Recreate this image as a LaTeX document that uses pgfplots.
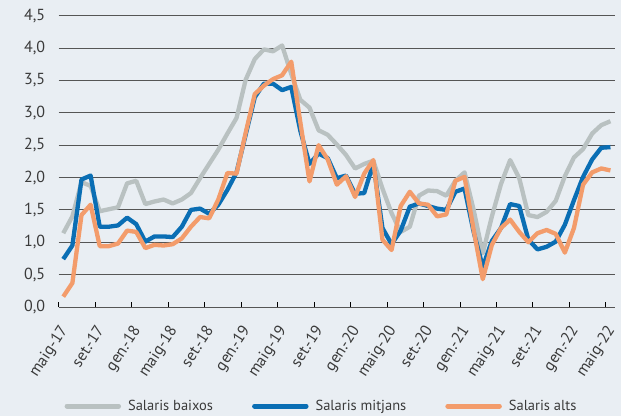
\documentclass[border=0pt]{standalone}
\usepackage{pgfplots}
\pgfplotsset{compat=1.18}
\usepackage{pgfplotstable}
\usepackage{fontspec}
\setmainfont{PT Sans}
\definecolor{bg}{HTML}{E9EEF3}
\definecolor{sgray}{HTML}{B9C1C1}
\definecolor{sblue}{HTML}{0A6EB4}
\definecolor{sorange}{HTML}{F39C6B}
\definecolor{gridc}{HTML}{555555}
\definecolor{txt}{HTML}{3A3A3A}

\pgfplotstableread{
m g b o
0 1.14 0.74 0.16
1 1.40 0.95 0.37
2 1.93 1.97 1.42
3 1.87 2.03 1.58
4 1.48 1.24 0.94
5 1.51 1.24 0.94
6 1.54 1.26 0.98
7 1.91 1.38 1.18
8 1.95 1.28 1.16
9 1.59 1.01 0.91
10 1.63 1.09 0.96
11 1.66 1.09 0.95
12 1.60 1.08 0.97
13 1.66 1.24 1.06
14 1.76 1.50 1.24
15 1.99 1.52 1.39
16 2.21 1.44 1.37
17 2.43 1.58 1.66
18 2.68 1.81 2.07
19 2.92 2.08 2.06
20 3.51 2.66 2.69
21 3.83 3.24 3.29
22 3.98 3.45 3.42
23 3.95 3.45 3.52
24 4.04 3.35 3.58
25 3.60 3.40 3.79
26 3.20 2.72 2.85
27 3.08 2.21 1.94
28 2.73 2.37 2.50
29 2.66 2.30 2.28
30 2.51 1.99 1.89
31 2.35 2.03 2.02
32 2.14 1.75 1.70
33 2.21 1.76 2.06
34 2.26 2.22 2.27
35 1.83 1.22 1.04
36 1.45 0.97 0.88
37 1.16 1.18 1.56
38 1.24 1.55 1.78
39 1.72 1.60 1.60
40 1.80 1.56 1.58
41 1.79 1.52 1.40
42 1.72 1.50 1.43
43 1.95 1.78 1.95
44 2.08 1.83 2.01
45 1.50 1.16 1.19
46 0.83 0.62 0.43
47 1.40 1.02 0.96
48 1.90 1.22 1.22
49 2.27 1.59 1.35
50 1.99 1.56 1.16
51 1.42 1.04 1.00
52 1.39 0.89 1.14
53 1.47 0.93 1.19
54 1.64 1.01 1.13
55 2.02 1.27 0.84
56 2.31 1.65 1.22
57 2.44 2.01 1.89
58 2.68 2.28 2.08
59 2.81 2.46 2.14
60 2.87 2.47 2.11
}\data

\begin{document}
\begin{tikzpicture}
\fill[bg] (0,0) rectangle (621pt,416pt);
\begin{axis}[
  at={(58.7pt,109pt)}, anchor=south west,
  scale only axis, width=556.3pt, height=291.3pt,
  xmin=-0.5, xmax=60.5, ymin=0, ymax=4.5,
  axis line style={draw=none},
  ytick={0,0.5,1,1.5,2,2.5,3,3.5,4,4.5},
  ymajorgrids,
  major grid style={gridc, line width=0.9pt},
  xtick={0,4,...,60},
  xticklabels={maig-17,set.-17,gen.-18,maig-18,set.-18,gen.-19,maig-19,set.-19,gen.-20,maig-20,set.-20,gen.-21,maig-21,set.-21,gen.-22,maig-22},
  minor xtick={-0.5,3.5,...,59.5},
  major tick length=0pt,
  minor tick length=5pt,
  tick align=inside,
  xtick pos=bottom, ytick pos=left,
  minor x tick style={black, line width=0.9pt},
  ytick style={draw=none},
  tick label style={font=\fontsize{16}{18}\selectfont, text=txt},
  xticklabel style={xshift=-5pt, yshift=-16pt, rotate=57, anchor=north east, inner sep=0.5pt},
  yticklabel style={xshift=-10pt},
  /pgf/number format/.cd, fixed, fixed zerofill, precision=1, use comma, assume math mode=true,
  /pgfplots/.cd,
  legend columns=3,
  legend style={at={(0.4724,-0.34)}, anchor=center, draw=none, fill=none,
    font=\fontsize{14.5}{17}\selectfont, text=txt,
    /tikz/every odd column/.append style={column sep=5pt},
    /tikz/every even column/.append style={column sep=37pt}},
  legend image code/.code={\draw[#1, line width=5pt, line cap=round] (2.5pt,0pt) -- (54pt,0pt);},
  every axis plot/.append style={line width=4.3pt, line join=round},
]
\addplot[sgray, mark=none] table[x=m, y=g] {\data};
\addlegendentry{Salaris baixos}
\addplot[sblue, mark=none] table[x=m, y=b] {\data};
\addlegendentry{Salaris mitjans}
\addplot[sorange, mark=none] table[x=m, y=o] {\data};
\addlegendentry{Salaris alts}
\end{axis}
\pgfresetboundingbox
\useasboundingbox (0,0) rectangle (621pt,416pt);
\end{tikzpicture}
\end{document}
